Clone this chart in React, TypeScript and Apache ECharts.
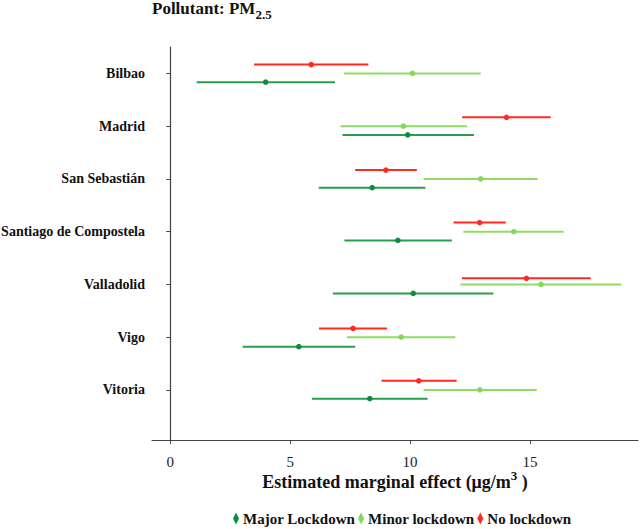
import React, { useEffect, useRef } from "react";
import * as echarts from "echarts";

const cities = ["Bilbao", "Madrid", "San Sebastián", "Santiago de Compostela", "Valladolid", "Vigo", "Vitoria"];
const rowPos = [7, 6, 5, 4, 3, 2, 1];

// Major Lockdown
const majorPoint = [3.98, 9.9, 8.42, 9.49, 10.13, 5.36, 8.32];
const majorLow = [1.1, 7.18, 6.19, 7.26, 6.78, 3.02, 5.91];
const majorHigh = [6.87, 12.66, 10.64, 11.74, 13.47, 7.71, 10.73];
const majorOffset = [-0.166, -0.166, -0.166, -0.166, -0.171, -0.18, -0.166];

// Minor lockdown
const minorPoint = [10.1, 9.72, 12.94, 14.32, 15.46, 9.63, 12.91];
const minorLow = [7.25, 7.1, 10.56, 12.22, 12.1, 7.37, 10.56];
const minorHigh = [12.94, 12.37, 15.32, 16.4, 18.81, 11.88, 15.28];
const minorOffset = [0, 0, 0, 0, 0, 0, 0];

// No lockdown
const noPoint = [5.88, 14.02, 8.99, 12.9, 14.85, 7.62, 10.36];
const noLow = [3.49, 12.17, 7.71, 11.81, 12.16, 6.2, 8.81];
const noHigh = [8.26, 15.86, 10.28, 13.99, 17.53, 9.04, 11.94];
const noOffset = [0.166, 0.166, 0.166, 0.171, 0.114, 0.166, 0.171];

const xTicks = [0, 5, 10, 15];

const FONT = "'Liberation Serif', 'Times New Roman', serif";

function buildData(low: number[], high: number[], pt: number[], off: number[]) {
  return cities.map((_, i) => [low[i], high[i], pt[i], rowPos[i] + off[i]]);
}

function makeSeries(name: string, lineColor: string, dotColor: string, data: number[][]) {
  return {
    type: "custom",
    name,
    data,
    itemStyle: { color: dotColor },
    encode: { x: [0, 1, 2], y: 3 },
    renderItem: (params: any, api: any) => {
      const y = api.value(3);
      const a = api.coord([api.value(0), y]);
      const b = api.coord([api.value(1), y]);
      const c = api.coord([api.value(2), y]);
      return {
        type: "group",
        children: [
          {
            type: "line",
            shape: { x1: a[0], y1: a[1], x2: b[0], y2: b[1] },
            style: { stroke: lineColor, lineWidth: 2 },
          },
          {
            type: "circle",
            shape: { cx: c[0], cy: c[1], r: 2.8 },
            style: { fill: dotColor },
          },
        ],
      };
    },
  };
}

export default function App() {
  const ref = useRef<HTMLDivElement>(null);
  useEffect(() => {
    if (!ref.current) return;
    const chart = echarts.init(ref.current, undefined, { renderer: "svg" });
    const diamond = "path://M3,0 L6,6 L3,12 L0,6 Z";
    chart.setOption({
      animation: false,
      backgroundColor: "#ffffff",
      title: {
        left: 152,
        top: 0,
        padding: 0,
        text: "{m|Pollutant: PM}{s|2.5}",
        textStyle: {
          rich: {
            m: { fontFamily: FONT, fontWeight: "bold", fontSize: 17, color: "#111", lineHeight: 21, verticalAlign: "top" },
            s: { fontFamily: FONT, fontWeight: "bold", fontSize: 13, color: "#111", lineHeight: 12, verticalAlign: "bottom" },
          },
        },
      },
      legend: {
        top: 511,
        left: 233,
        padding: 0,
        itemGap: 3,
        itemWidth: 6,
        itemHeight: 12,
        textStyle: { fontFamily: FONT, fontWeight: "bold", fontSize: 15, color: "#111", padding: [0, 0, 0, -1] },
        data: [
          { name: "Major Lockdown", icon: diamond, itemStyle: { color: "#0d8c3c" } },
          { name: "Minor lockdown", icon: diamond, itemStyle: { color: "#86d85a" } },
          { name: "No lockdown", icon: diamond, itemStyle: { color: "#ff2a20" } },
        ],
      },
      grid: { left: 152, right: 6, top: 47, bottom: 89, containLabel: false, outerBoundsMode: "none" },
      xAxis: {
        type: "value",
        min: -0.76,
        max: 19.5,
        splitLine: { show: false },
        axisLine: { show: true, lineStyle: { color: "#444", width: 1.2 } },
        axisTick: { show: true, length: 4, customValues: xTicks, lineStyle: { color: "#444" } },
        axisLabel: { customValues: xTicks, margin: 14, fontFamily: FONT, fontSize: 15, color: "#222" },
        name: "{b|Estimated marginal effect (μg/m}{sup|3}{b| )}",
        nameLocation: "middle",
        nameGap: 29,
        nameMoveOverlap: false,
        nameTextStyle: {
          rich: {
            b: { fontFamily: FONT, fontWeight: "bold", fontSize: 18, color: "#111", lineHeight: 22, verticalAlign: "bottom" },
            sup: { fontFamily: FONT, fontWeight: "bold", fontSize: 13, color: "#111", lineHeight: 12, verticalAlign: "top" },
          },
        },
      },
      yAxis: {
        type: "value",
        min: 0.05,
        max: 7.5,
        splitLine: { show: false },
        axisLine: { show: true, lineStyle: { color: "#444", width: 1.2 } },
        axisTick: { show: true, length: 4, customValues: rowPos, lineStyle: { color: "#444" } },
        axisLabel: {
          customValues: rowPos,
          margin: 7,
          fontFamily: FONT,
          fontWeight: "bold",
          fontSize: 14,
          color: "#111",
          formatter: (v: number) => {
            const i = rowPos.indexOf(Math.round(v));
            return i >= 0 ? cities[i] : "";
          },
        },
      },
      series: [
        makeSeries("Major Lockdown", "#2a9e4e", "#0d8c3c", buildData(majorLow, majorHigh, majorPoint, majorOffset)),
        makeSeries("Minor lockdown", "#90dc62", "#86d85a", buildData(minorLow, minorHigh, minorPoint, minorOffset)),
        makeSeries("No lockdown", "#ff2a20", "#ff2a20", buildData(noLow, noHigh, noPoint, noOffset)),
      ],
    });
    return () => chart.dispose();
  }, []);
  return <div ref={ref} style={{ position: "fixed", left: 0, top: 0, width: 644, height: 529 }} />;
}
